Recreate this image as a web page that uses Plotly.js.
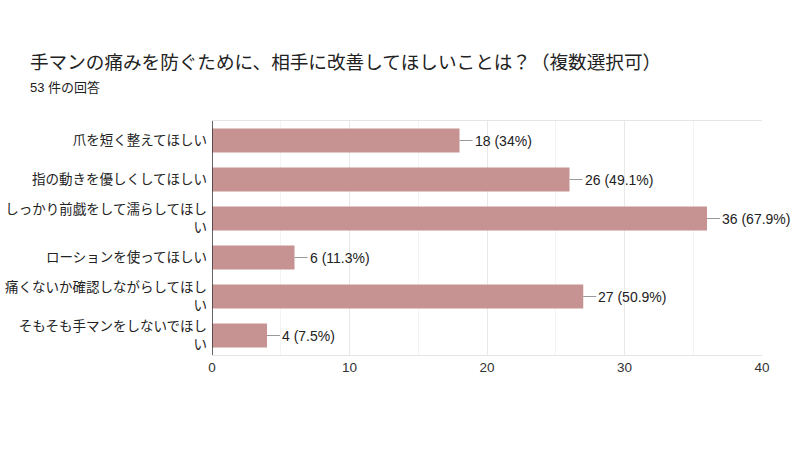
<!DOCTYPE html>
<html><head><meta charset="utf-8">
<script src="https://cdn.plot.ly/plotly-3.0.1.min.js"></script>
<style>html,body{margin:0;padding:0;background:#fff;}#chart{width:800px;height:449px;}</style>
</head><body><div id="chart"></div>
<script>
const categories = [
  "爪を短く整えてほしい",
  "指の動きを優しくしてほしい",
  "しっかり前戯をして濡らしてほし<br>い",
  "ローションを使ってほしい",
  "痛くないか確認しながらしてほし<br>い",
  "そもそも手マンをしないでほし<br>い"
];
const counts = [18, 26, 36, 6, 27, 4];
const percents = ["34%", "49.1%", "67.9%", "11.3%", "50.9%", "7.5%"];
const titleText = "手マンの痛みを防ぐために、相手に改善してほしいことは？（複数選択可）";
const subtitleText = "53 件の回答";
const xTicks = [0, 10, 20, 30, 40];

const FONT = "'Liberation Sans', Arial, 'Noto Sans CJK JP', sans-serif";

const trace = {
  type: "bar", orientation: "h",
  x: counts, y: categories,
  marker: {color: "#c69392"},
  width: 0.62,
  hoverinfo: "none"
};

const annotations = counts.map((v, i) => ({
  x: v, y: categories[i], xref: "x", yref: "y",
  text: v + " (" + percents[i] + ")",
  showarrow: true, arrowhead: 0, arrowwidth: 1, arrowcolor: "#999",
  ax: 13, ay: 0, xanchor: "left", yanchor: "middle",
  font: {family: FONT, size: 14, color: "#222"}
}));
annotations.push({
  xref: "paper", yref: "paper", x: -0.334, y: 1.252, xanchor: "left", yanchor: "middle",
  text: titleText, showarrow: false,
  font: {family: FONT, size: 18.6, color: "#222"}
});
annotations.push({
  xref: "paper", yref: "paper", x: -0.334, y: 1.145, xanchor: "left", yanchor: "middle",
  text: subtitleText, showarrow: false,
  font: {family: FONT, size: 13, color: "#222"}
});

const layout = {
  width: 800, height: 449,
  margin: {l: 212, r: 38, t: 121, b: 94},
  paper_bgcolor: "#fff", plot_bgcolor: "#fff",
  showlegend: false,
  font: {family: FONT, size: 13, color: "#222"},
  xaxis: {
    range: [0, 40], tickvals: xTicks, ticktext: xTicks.map(String),
    showgrid: true, gridcolor: "#e8e8e8", gridwidth: 1,
    minor: {tickvals: [5, 15, 25, 35], showgrid: true, gridcolor: "#f3f3f3", gridwidth: 1},
    zeroline: false, showline: true, linecolor: "#e5e5e5", mirror: true,
    ticks: "", ticklen: 0, tickfont: {family: FONT, size: 13.5, color: "#333"},
    fixedrange: true
  },
  yaxis: {
    autorange: "reversed", showgrid: false, zeroline: false,
    showline: false, ticks: "", ticklabelstandoff: 4,
    tickfont: {family: FONT, size: 13.5, color: "#222"},
    fixedrange: true
  },
  shapes: [{
    type: "line", xref: "x", yref: "paper", x0: 0, x1: 0, y0: 0, y1: 1,
    line: {color: "#333", width: 1.5}
  }],
  annotations: annotations,
  bargap: 0.38
};

Plotly.newPlot("chart", [trace], layout, {displayModeBar: false, staticPlot: true});
</script></body></html>
